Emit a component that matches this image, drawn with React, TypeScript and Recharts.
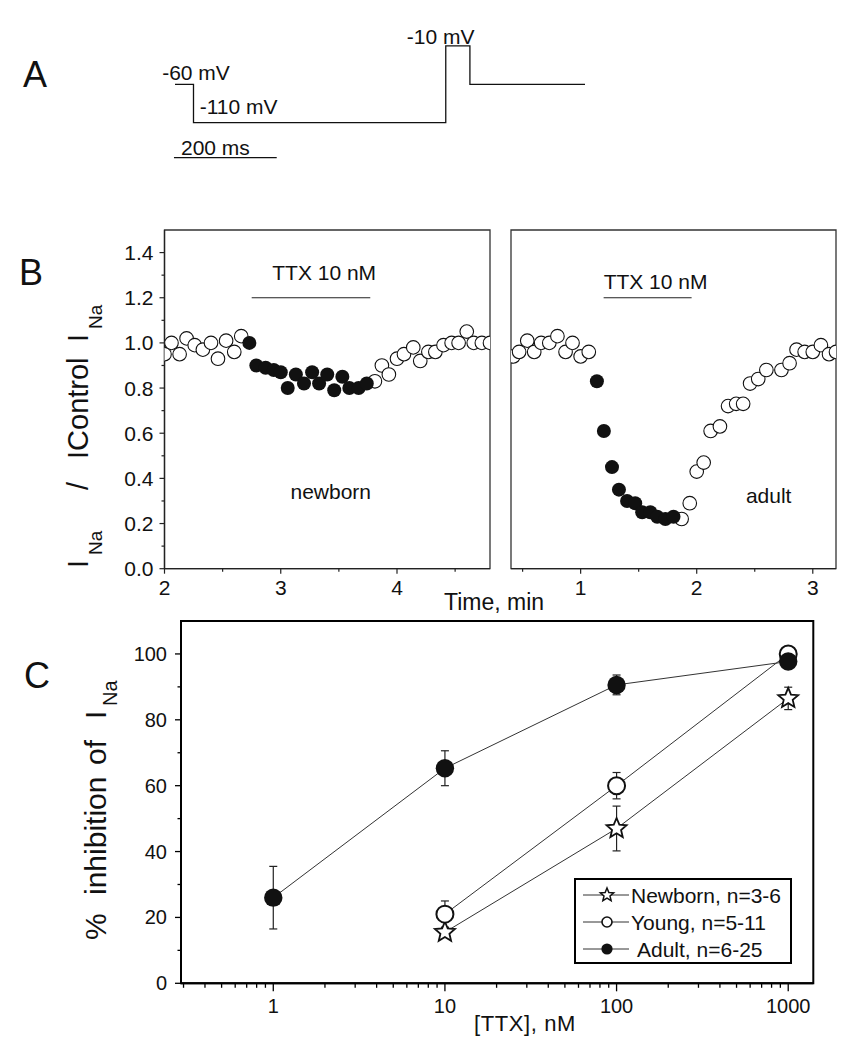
import React from "react";
import {
  LineChart,
  Line,
  ScatterChart,
  Scatter,
  XAxis,
  YAxis,
  ReferenceLine,
  ReferenceArea,
  ReferenceDot,
  ErrorBar,
} from "recharts";

// Three-panel TTX figure: A voltage protocol, B time course (newborn / adult), C dose-response.

const FONT = '"Liberation Sans", Arial, Helvetica, sans-serif';
const INK = "#111";

// ---- A: voltage protocol (ms, mV)
const protoTime = [0, 36, 527, 574, 798];
const protoVolt = [-60, -110, -10, -60, -60];

// ---- B: newborn time course (min, I/Icontrol)
const nbPreT = [2.0, 2.06, 2.13, 2.19, 2.26, 2.33, 2.4, 2.46, 2.53, 2.6, 2.66];
const nbPreV = [0.95, 1.0, 0.95, 1.02, 0.99, 0.97, 1.0, 0.93, 1.01, 0.96, 1.03];
const nbTtxT = [2.73, 2.79, 2.87, 2.94, 3.0, 3.06, 3.13, 3.2, 3.27, 3.33, 3.4, 3.46, 3.53, 3.59, 3.67, 3.74];
const nbTtxV = [1.0, 0.9, 0.89, 0.88, 0.87, 0.8, 0.86, 0.82, 0.87, 0.82, 0.86, 0.79, 0.85, 0.8, 0.8, 0.82];
const nbPostT = [3.81, 3.87, 3.93, 4.0, 4.06, 4.14, 4.2, 4.27, 4.33, 4.4, 4.47, 4.53, 4.6, 4.66, 4.73, 4.8];
const nbPostV = [0.83, 0.9, 0.86, 0.93, 0.95, 0.98, 0.92, 0.96, 0.96, 0.99, 1.0, 1.0, 1.05, 1.0, 1.0, 1.0];

// ---- B: adult time course
const adPreT = [0.42, 0.47, 0.54, 0.6, 0.66, 0.73, 0.8, 0.87, 0.93, 1.0, 1.07];
const adPreV = [0.94, 0.96, 1.01, 0.96, 1.0, 1.0, 1.03, 0.96, 1.0, 0.94, 0.96];
const adTtxT = [1.14, 1.2, 1.27, 1.33, 1.4, 1.47, 1.53, 1.6, 1.66, 1.73, 1.8];
const adTtxV = [0.83, 0.61, 0.45, 0.35, 0.3, 0.29, 0.25, 0.25, 0.23, 0.22, 0.23];
const adPostT = [1.87, 1.94, 2.0, 2.06, 2.12, 2.2, 2.27, 2.34, 2.4, 2.46, 2.53, 2.6, 2.73, 2.8, 2.86, 2.93, 3.0, 3.07, 3.14, 3.2];
const adPostV = [0.22, 0.29, 0.43, 0.47, 0.61, 0.63, 0.72, 0.73, 0.73, 0.82, 0.84, 0.88, 0.88, 0.91, 0.97, 0.96, 0.96, 0.99, 0.95, 0.96];

const ratioTicks = [0, 0.1, 0.2, 0.3, 0.4, 0.5, 0.6, 0.7, 0.8, 0.9, 1.0, 1.1, 1.2, 1.3, 1.4];
const ratioMajors = [0, 0.2, 0.4, 0.6, 0.8, 1.0, 1.2, 1.4];
const nbTimeTicks = [2, 2.5, 3, 3.5, 4, 4.5];
const nbTimeMajors = [2, 3, 4];
const adTimeTicks = [0.5, 1, 1.5, 2, 2.5, 3];
const adTimeMajors = [1, 2, 3];

// ---- C: % inhibition vs [TTX] (nM)
const nbConc = [10, 100, 1000];
const nbMean = [15.5, 47, 86.5];
const nbSem = [1.5, 6.8, 3.4];
const yoConc = [10, 100, 1000];
const yoMean = [21, 60, 100];
const yoSem = [4, 4, 2];
const adConc = [1, 10, 100, 1000];
const adMean = [26, 65.3, 90.6, 97.7];
const adSem = [9.5, 5.3, 3, 2];

const concTicks = [
  0.3, 0.4, 0.5, 0.6, 0.7, 0.8, 0.9, 1, 2, 3, 4, 5, 6, 7, 8, 9, 10, 20, 30, 40, 50, 60, 70, 80, 90,
  100, 200, 300, 400, 500, 600, 700, 800, 900, 1000,
];
const concMajors = [1, 10, 100, 1000];
const inhTicks = [0, 10, 20, 30, 40, 50, 60, 70, 80, 90, 100];
const inhMajors = [0, 20, 40, 60, 80, 100];

const pts = (t: number[], v: number[]) => t.map((x, i) => ({ t: x, v: v[i] }));
const dose = (c: number[], m: number[], e: number[]) => c.map((x, i) => ({ c: x, m: m[i], e: e[i] }));

type TickCfg = {
  side: "left" | "bottom";
  majors: number[];
  fmt: (v: number) => string;
  big: number;
  small: number;
  gap: number;
  size: number;
  stroke: string;
  sw: number;
};

const makeTick = (c: TickCfg) => (p: any) => {
  const { x, y, payload } = p;
  const v = payload.value;
  const major = c.majors.some((m) => Math.abs(m - v) < 1e-9);
  const len = major ? c.big : c.small;
  if (c.side === "left") {
    return (
      <g>
        <line x1={x} y1={y} x2={x - len} y2={y} stroke={c.stroke} strokeWidth={c.sw} />
        {major && (
          <text x={x - c.gap} y={y} textAnchor="end" dominantBaseline="central" fontSize={c.size} fontFamily={FONT} fill={INK}>
            {c.fmt(v)}
          </text>
        )}
      </g>
    );
  }
  return (
    <g>
      <line x1={x} y1={y} x2={x} y2={y + len} stroke={c.stroke} strokeWidth={c.sw} />
      {major && (
        <text x={x} y={y + c.gap} textAnchor="middle" dominantBaseline="central" fontSize={c.size} fontFamily={FONT} fill={INK}>
          {c.fmt(v)}
        </text>
      )}
    </g>
  );
};

const Note = (p: any) => {
  const { viewBox, text, anchor = "start", size = 21 } = p;
  return (
    <text x={viewBox.x} y={viewBox.y} textAnchor={anchor} dominantBaseline="central" fontSize={size} fontFamily={FONT} fill={INK}>
      {text}
    </text>
  );
};

const openDot = (p: any) => <circle cx={p.cx} cy={p.cy} r={6.8} fill="#fff" stroke={INK} strokeWidth={1.1} />;
const fullDot = (p: any) => <circle cx={p.cx} cy={p.cy} r={7} fill={INK} />;

function starPath(cx: number, cy: number, R: number) {
  const r = R * 0.45;
  let d = "";
  for (let i = 0; i < 10; i++) {
    const a = -Math.PI / 2 + (i * Math.PI) / 5;
    const rad = i % 2 ? r : R;
    d += (i ? "L" : "M") + (cx + rad * Math.cos(a)).toFixed(2) + "," + (cy + rad * Math.sin(a)).toFixed(2);
  }
  return d + "Z";
}

const starMark = (p: any) => <path d={starPath(p.cx, p.cy, 10.5)} fill="#fff" stroke={INK} strokeWidth={1.8} strokeLinejoin="miter" />;
const ringMark = (p: any) => <circle cx={p.cx} cy={p.cy} r={8.5} fill="#fff" stroke={INK} strokeWidth={2} />;
const ballMark = (p: any) => <circle cx={p.cx} cy={p.cy} r={9.2} fill={INK} />;

function ProtocolChart() {
  const data = pts(protoTime, protoVolt);
  const labels: [number, number, string][] = [
    [-25, -45.3, "-60 mV"],
    [48, -88.3, "-110 mV"],
    [451, 1.9, "-10 mV"],
    [11.7, -142.6, "200 ms"],
  ];
  return (
    <LineChart width={849} height={180} data={data} margin={{ top: 30.5, right: 264, bottom: 18.9, left: 175 }}>
      <XAxis dataKey="t" type="number" domain={[0, 798]} hide />
      <YAxis type="number" domain={[-160, 10]} hide />
      <Line type="stepAfter" dataKey="v" stroke={INK} strokeWidth={1.3} dot={false} isAnimationActive={false} />
      <ReferenceLine segment={[{ x: -2, y: -155.6 }, { x: 198, y: -155.6 }]} stroke={INK} strokeWidth={1.3} ifOverflow="visible" />
      {labels.map(([x, y, s]) => (
        <ReferenceDot key={s} x={x} y={y} r={0} ifOverflow="visible" label={<Note text={s} />} />
      ))}
    </LineChart>
  );
}

type CourseProps = {
  width: number;
  margin: { top: number; right: number; bottom: number; left: number };
  domain: [number, number];
  xTicks: number[];
  xMajors: number[];
  showY: boolean;
  ctrl: { t: number; v: number }[];
  ttx: { t: number; v: number }[];
  bar: [number, number];
  barText: [number, number];
  name: [number, number, string];
};

function TimeCourse(props: CourseProps) {
  const { width, margin, domain, xTicks, xMajors, showY, ctrl, ttx, bar, barText, name } = props;
  return (
    <ScatterChart width={width} height={400} margin={margin}>
      <XAxis
        dataKey="t"
        type="number"
        domain={domain}
        ticks={xTicks}
        interval={0}
        allowDataOverflow
        height={30}
        tickSize={0}
        tickMargin={0}
        tickLine={false}
        axisLine={{ stroke: "#222", strokeWidth: 1.3 }}
        tick={makeTick({ side: "bottom", majors: xMajors, fmt: (v) => String(v), big: 5, small: 3, gap: 19, size: 21, stroke: "#222", sw: 1.2 })}
      />
      <YAxis
        dataKey="v"
        type="number"
        domain={[0, 1.5]}
        ticks={ratioTicks}
        interval={0}
        hide={!showY}
        width={60}
        tickSize={0}
        tickMargin={0}
        tickLine={false}
        axisLine={{ stroke: "#222", strokeWidth: 1.3 }}
        tick={makeTick({ side: "left", majors: ratioMajors, fmt: (v) => v.toFixed(1), big: 5, small: 3, gap: 11, size: 21, stroke: "#222", sw: 1.2 })}
      />
      <ReferenceArea x1={domain[0]} x2={domain[1]} y1={0} y2={1.5} fill="none" stroke="#333" strokeWidth={1.3} />
      <ReferenceLine segment={[{ x: bar[0], y: 1.2 }, { x: bar[1], y: 1.2 }]} stroke="#222" strokeWidth={1.2} />
      <ReferenceDot x={barText[0]} y={barText[1]} r={0} ifOverflow="visible" label={<Note text="TTX 10 nM" />} />
      <ReferenceDot x={name[0]} y={name[1]} r={0} ifOverflow="visible" label={<Note text={name[2]} anchor="middle" />} />
      <Scatter data={ctrl} shape={openDot} isAnimationActive={false} />
      <Scatter data={ttx} shape={fullDot} isAnimationActive={false} />
    </ScatterChart>
  );
}

function DoseChart() {
  const lineStyle = { stroke: "#333", strokeWidth: 1 };
  const bar = { stroke: "#222", strokeWidth: 1.2 };
  return (
    <ScatterChart width={849} height={450} margin={{ top: 21, right: 35.7, bottom: 26.7, left: 121 }}>
      <XAxis
        dataKey="c"
        type="number"
        scale="log"
        domain={[0.29, 1400]}
        ticks={concTicks}
        interval={0}
        allowDataOverflow
        height={40}
        tickSize={0}
        tickMargin={0}
        tickLine={false}
        axisLine={{ stroke: "#000", strokeWidth: 2 }}
        tick={makeTick({ side: "bottom", majors: concMajors, fmt: (v) => String(v), big: 8, small: 4.5, gap: 23, size: 20, stroke: "#000", sw: 1.3 })}
      />
      <YAxis
        dataKey="m"
        type="number"
        domain={[0, 110]}
        ticks={inhTicks}
        interval={0}
        width={60}
        tickSize={0}
        tickMargin={0}
        tickLine={false}
        axisLine={{ stroke: "#000", strokeWidth: 2 }}
        tick={makeTick({ side: "left", majors: inhMajors, fmt: (v) => String(v), big: 6, small: 3.5, gap: 14, size: 20, stroke: "#000", sw: 1.3 })}
      />
      <ReferenceArea x1={0.29} x2={1400} y1={0} y2={110} fill="none" stroke="#000" strokeWidth={2} />
      <Scatter data={dose(nbConc, nbMean, nbSem)} line={lineStyle} lineType="joint" shape={starMark} isAnimationActive={false}>
        <ErrorBar dataKey="e" direction="y" width={4} {...bar} />
      </Scatter>
      <Scatter data={dose(yoConc, yoMean, yoSem)} line={lineStyle} lineType="joint" shape={ringMark} isAnimationActive={false}>
        <ErrorBar dataKey="e" direction="y" width={4} {...bar} />
      </Scatter>
      <Scatter data={dose(adConc, adMean, adSem)} line={lineStyle} lineType="joint" shape={ballMark} isAnimationActive={false}>
        <ErrorBar dataKey="e" direction="y" width={4} {...bar} />
      </Scatter>
    </ScatterChart>
  );
}

// rotated text piece: pageY = where the piece starts (bottom end), base = baseline x
const Rot = ({ y, base, size, children }: { y: number; base: number; size: number; children: React.ReactNode }) => (
  <text transform={`translate(${base},${y}) rotate(-90)`} x={0} y={0} fontSize={size} fontFamily={FONT} fill={INK}>
    {children}
  </text>
);

function Overlay() {
  const legendRows: [number, string, number, (p: any) => React.ReactNode][] = [
    [895, "Newborn, n=3-6", 631, (p) => <path d={starPath(p.cx, p.cy, 7)} fill="#fff" stroke={INK} strokeWidth={1.5} />],
    [922, "Young, n=5-11", 631, (p) => <circle cx={p.cx} cy={p.cy} r={5} fill="#fff" stroke={INK} strokeWidth={1.6} />],
    [949, "Adult, n=6-25", 637, (p) => <circle cx={p.cx} cy={p.cy} r={5.6} fill={INK} />],
  ];
  return (
    <svg width={849} height={1050} style={{ position: "absolute", left: 0, top: 0, pointerEvents: "none" }}>
      <text x={23} y={74} dominantBaseline="central" fontSize={36} fontFamily={FONT} fill={INK}>A</text>
      <text x={19} y={272} dominantBaseline="central" fontSize={36} fontFamily={FONT} fill={INK}>B</text>
      <text x={24} y={675} dominantBaseline="central" fontSize={36} fontFamily={FONT} fill={INK}>C</text>

      {/* B y label */}
      <Rot y={568} base={88} size={29}>I</Rot>
      <Rot y={555} base={102} size={19}>Na</Rot>
      <Rot y={490} base={88} size={29}>/</Rot>
      <Rot y={459} base={88} size={29}>IControl</Rot>
      <Rot y={342} base={88} size={29}>I</Rot>
      <Rot y={329} base={102} size={19}>Na</Rot>

      <text x={494} y={610} textAnchor="middle" fontSize={23} fontFamily={FONT} fill={INK}>Time, min</text>

      {/* C y label */}
      <Rot y={940} base={106} size={30}>%</Rot>
      <Rot y={895} base={106} size={30}>inhibition</Rot>
      <Rot y={765} base={106} size={30}>of</Rot>
      <Rot y={719} base={106} size={30}>I</Rot>
      <Rot y={706} base={117} size={20}>Na</Rot>

      <text x={525} y={1023} textAnchor="middle" dominantBaseline="central" fontSize={22} letterSpacing={0.6} fontFamily={FONT} fill={INK}>
        [TTX], nM
      </text>

      {/* legend */}
      <rect x={575} y={879} width={216} height={84} fill="#fff" stroke="#000" strokeWidth={2} />
      {legendRows.map(([y, s, tx, mark]) => (
        <g key={s}>
          <line x1={583} x2={629} y1={y} y2={y} stroke="#333" strokeWidth={1} />
          {mark({ cx: 607, cy: y })}
          <text x={tx} y={y} dominantBaseline="central" fontSize={21} fontFamily={FONT} fill={INK}>{s}</text>
        </g>
      ))}
    </svg>
  );
}

export default function App() {
  return (
    <div style={{ position: "absolute", left: 0, top: 0, width: 849, height: 1050, background: "#fff" }}>
      <div style={{ position: "absolute", left: 0, top: 0 }}>
        <ProtocolChart />
      </div>
      <div style={{ position: "absolute", left: 0, top: 200 }}>
        <TimeCourse
          width={500}
          margin={{ top: 30, right: 10, bottom: 1.3, left: 104.5 }}
          domain={[2, 4.8]}
          xTicks={nbTimeTicks}
          xMajors={nbTimeMajors}
          showY
          ctrl={[...pts(nbPreT, nbPreV), ...pts(nbPostT, nbPostV)]}
          ttx={pts(nbTtxT, nbTtxV)}
          bar={[2.75, 3.77]}
          barText={[2.927, 1.313]}
          name={[3.43, 0.34, "newborn"]}
        />
      </div>
      <div style={{ position: "absolute", left: 500, top: 200 }}>
        <TimeCourse
          width={349}
          margin={{ top: 30, right: 13, bottom: 1.3, left: 11 }}
          domain={[0.4, 3.2]}
          xTicks={adTimeTicks}
          xMajors={adTimeMajors}
          showY={false}
          ctrl={[...pts(adPreT, adPreV), ...pts(adPostT, adPostV)]}
          ttx={pts(adTtxT, adTtxV)}
          bar={[1.198, 1.956]}
          barText={[1.198, 1.273]}
          name={[2.62, 0.322, "adult"]}
        />
      </div>
      <div style={{ position: "absolute", left: 0, top: 600 }}>
        <DoseChart />
      </div>
      <Overlay />
    </div>
  );
}
